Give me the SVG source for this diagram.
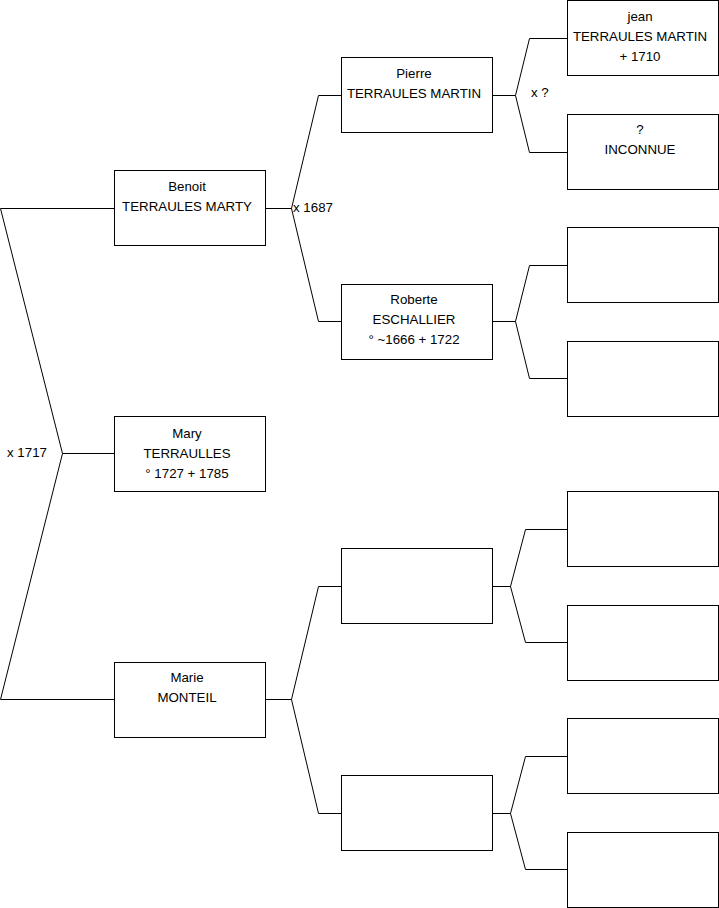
<svg xmlns="http://www.w3.org/2000/svg" width="719" height="908" viewBox="0 0 719 908">
<style>
.box{fill:#fff;stroke:#000;stroke-width:1}
.c{fill:none;stroke:#000;stroke-width:1}
text{font-family:"Liberation Sans",Arial,sans-serif;font-size:13.3px;fill:#000}
.m{text-anchor:middle}
</style>
<rect width="719" height="908" fill="#fff"/>
<g id="connectors">
<path class="c" d="M114.5,208.5 H0.5 L62.5,453.5 H114.5 M62.5,453.5 L0.5,699.5 H114.5"/>
<path class="c" d="M265.5,208.5 H291.5 L318.5,95.5 H341.5 M291.5,208.5 L318.5,321.5 H341.5"/>
<path class="c" d="M265.5,699.5 H291.5 L318.5,586.5 H341.5 M291.5,699.5 L318.5,813.5 H341.5"/>
<path class="c" d="M492.5,95.5 H515.5 L529.5,38.5 H567.5 M515.5,95.5 L529.5,152.5 H567.5"/>
<path class="c" d="M492.5,321.5 H515.5 L529.5,265.5 H567.5 M515.5,321.5 L529.5,378.5 H567.5"/>
<path class="c" d="M492.5,586.5 H510.5 L525.5,529.5 H567.5 M510.5,586.5 L525.5,642.5 H567.5"/>
<path class="c" d="M492.5,813.5 H510.5 L525.5,756.5 H567.5 M510.5,813.5 L525.5,869.5 H567.5"/>
<text x="7" y="457">x 1717</text>
<text x="293" y="212">x 1687</text>
<text x="531" y="97">x ?</text>
</g>
<g id="benoit"><rect class="box" x="114.5" y="170.5" width="151" height="75"/><text class="m" x="187" y="191">Benoit</text><text class="m" x="187" y="211">TERRAULES MARTY</text></g>
<g id="mary"><rect class="box" x="114.5" y="416.5" width="151" height="75"/><text class="m" x="187" y="438">Mary</text><text class="m" x="187" y="458">TERRAULLES</text><text class="m" x="187" y="478">° 1727 + 1785</text></g>
<g id="marie"><rect class="box" x="114.5" y="662.5" width="151" height="75"/><text class="m" x="187" y="682">Marie</text><text class="m" x="187" y="702">MONTEIL</text></g>
<g id="pierre"><rect class="box" x="341.5" y="57.5" width="151" height="75"/><text class="m" x="414" y="78">Pierre</text><text class="m" x="414" y="98">TERRAULES MARTIN</text></g>
<g id="roberte"><rect class="box" x="341.5" y="284.5" width="151" height="75"/><text class="m" x="414" y="304">Roberte</text><text class="m" x="414" y="324">ESCHALLIER</text><text class="m" x="414" y="344">° ~1666 + 1722</text></g>
<g id="p3"><rect class="box" x="341.5" y="548.5" width="151" height="75"/></g>
<g id="p4"><rect class="box" x="341.5" y="775.5" width="151" height="75"/></g>
<g id="jean"><rect class="box" x="567.5" y="0.5" width="151" height="75"/><text class="m" x="640" y="21">jean</text><text class="m" x="640" y="41">TERRAULES MARTIN</text><text class="m" x="640" y="61">+ 1710</text></g>
<g id="inconnue"><rect class="box" x="567.5" y="114.5" width="151" height="75"/><text class="m" x="640" y="134">?</text><text class="m" x="640" y="154">INCONNUE</text></g>
<g id="g3"><rect class="box" x="567.5" y="227.5" width="151" height="75"/></g>
<g id="g4"><rect class="box" x="567.5" y="341.5" width="151" height="75"/></g>
<g id="g5"><rect class="box" x="567.5" y="491.5" width="151" height="75"/></g>
<g id="g6"><rect class="box" x="567.5" y="605.5" width="151" height="75"/></g>
<g id="g7"><rect class="box" x="567.5" y="718.5" width="151" height="75"/></g>
<g id="g8"><rect class="box" x="567.5" y="832.5" width="151" height="75"/></g>
</svg>
